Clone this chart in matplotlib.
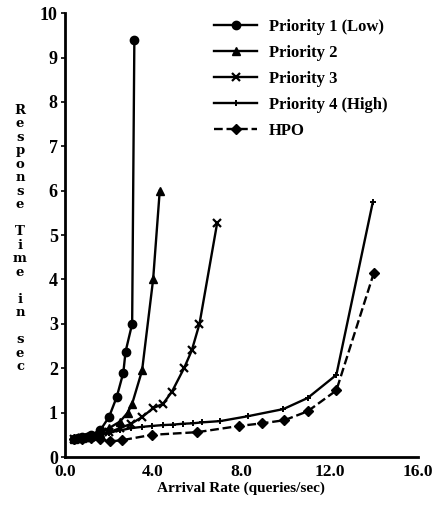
import matplotlib
matplotlib.use("Agg")
import matplotlib.pyplot as plt
from matplotlib.legend_handler import HandlerLine2D
from matplotlib.lines import Line2D

plt.rcParams['font.family'] = ['Liberation Serif', 'DejaVu Serif']
plt.rcParams['font.weight'] = 'bold'

# data
p1_x = [0.4, 0.6, 0.8, 1.0, 1.2, 1.6, 2.0, 2.35, 2.65, 2.75, 3.05, 3.15]
p1_y = [0.40, 0.42, 0.44, 0.46, 0.50, 0.60, 0.90, 1.35, 1.90, 2.37, 3.00, 9.40]

p2_x = [0.4, 0.6, 0.8, 1.0, 1.2, 1.6, 2.0, 2.5, 2.85, 3.05, 3.5, 4.0, 4.3]
p2_y = [0.40, 0.42, 0.43, 0.45, 0.48, 0.55, 0.65, 0.80, 1.00, 1.20, 1.95, 4.00, 6.00]

p3_x = [0.4, 0.8, 1.2, 1.6, 2.0, 2.5, 3.0, 3.5, 4.0, 4.45, 4.85, 5.4, 5.75, 6.1, 6.9]
p3_y = [0.40, 0.42, 0.45, 0.50, 0.56, 0.65, 0.75, 0.90, 1.10, 1.20, 1.47, 2.00, 2.40, 3.00, 5.27]

p4_x = [0.4, 0.8, 1.2, 1.6, 2.0, 2.5, 3.0, 3.5, 3.95, 4.45, 4.9, 5.35, 5.8, 6.2,
        7.05, 8.3, 9.9, 11.0, 12.3, 13.95]
p4_y = [0.40, 0.42, 0.45, 0.50, 0.55, 0.60, 0.65, 0.68, 0.70, 0.72, 0.73, 0.75,
        0.76, 0.78, 0.81, 0.92, 1.08, 1.33, 1.85, 5.74]

hpo_x = [0.4, 0.8, 1.2, 1.6, 2.05, 2.6, 3.95, 6.0, 7.9, 8.95, 9.95, 11.0, 12.3, 14.0]
hpo_y = [0.40, 0.40, 0.42, 0.40, 0.35, 0.38, 0.50, 0.56, 0.70, 0.76, 0.83, 1.03, 1.50, 4.15]

labels = ["Priority 1 (Low)", "Priority 2", "Priority 3", "Priority 4 (High)", "HPO"]
x_ticks = [0, 4, 8, 12, 16]
y_ticks = list(range(0, 11))


class EndMarkers(HandlerLine2D):
    # markers at both ends of the legend line, like the original
    def get_xdata(self, legend, xdescent, ydescent, width, height, fontsize):
        xdata = [-xdescent, -xdescent + width]
        return xdata, xdata


fig = plt.figure(figsize=(4.35, 5.05), dpi=100)
ax = fig.add_axes([0.149, 0.095, 0.812, 0.879])

lw = 1.7
ax.plot(p1_x, p1_y, '-', color='black', lw=lw, marker='o', ms=6, label=labels[0])
ax.plot(p2_x, p2_y, '-', color='black', lw=lw, marker='^', ms=6, label=labels[1])
ax.plot(p3_x, p3_y, '-', color='black', lw=lw, marker='x', ms=5.5, mew=1.6, label=labels[2])
ax.plot(p4_x, p4_y, '-', color='black', lw=lw, marker='+', ms=5, mew=1.4, label=labels[3])
ax.plot(hpo_x, hpo_y, '--', color='black', lw=lw, marker='D', ms=5.5, label=labels[4])

ax.set_xlim(0, 16)
ax.set_ylim(0, 10)
ax.set_xticks(x_ticks)
ax.set_xticklabels([f"{v:.1f}" for v in x_ticks], fontsize=12.5, fontweight='bold')
ax.set_yticks(y_ticks)
ax.set_yticklabels([str(v) for v in y_ticks], fontsize=13, fontweight='bold')
ax.tick_params(axis='x', length=0, pad=5)
ax.tick_params(axis='y', length=3, width=1.2, pad=2)

for side in ['top', 'right']:
    ax.spines[side].set_visible(False)
for side in ['left', 'bottom']:
    ax.spines[side].set_linewidth(2)

ax.set_xlabel("Arrival Rate (queries/sec)", fontsize=11, fontweight='bold', labelpad=1)

# stacked vertical y label
ylab = "Response Time in sec"
fig.text(0.046, 0.528, "\n".join(ylab), ha='center', va='center',
         fontsize=9.5, fontweight='bold', linespacing=1.05, family='DejaVu Serif')

ax.legend(loc='upper left', bbox_to_anchor=(0.38, 1.02), frameon=False,
          handler_map={Line2D: EndMarkers()}, handlelength=2.6, handletextpad=0.7,
          labelspacing=0.6, prop={'size': 12, 'weight': 'bold'})

fig.savefig('out.png', dpi=100)
